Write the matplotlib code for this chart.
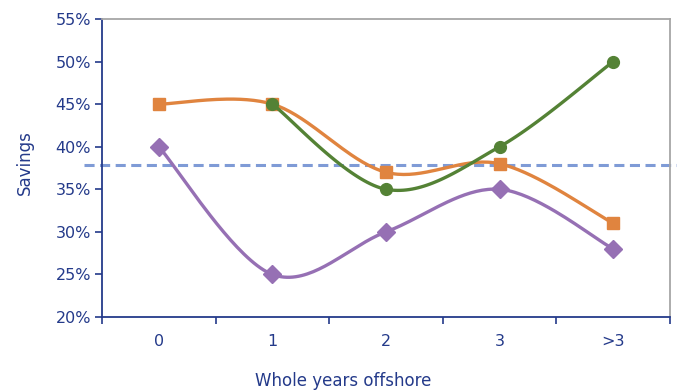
import numpy as np
import matplotlib
matplotlib.use("Agg")
import matplotlib.pyplot as plt
from matplotlib.ticker import FuncFormatter

categories = ["0", "1", "2", "3", ">3"]
series_orange = [45, 45, 37, 38, 31]
series_green = [None, 45, 35, 40, 50]
series_purple = [40, 25, 30, 35, 28]
average_line = 37.85

NAVY = "#243A8A"
ORANGE = "#E0843F"
GREEN = "#548235"
PURPLE = "#9670B4"
DASH = "#7F9BD6"


def smooth(xs, ys, n=40):
    """Catmull-Rom style cubic Bezier smoothing through the points."""
    pts = np.column_stack([xs, ys]).astype(float)
    out = []
    m = len(pts)
    for i in range(m - 1):
        p0 = pts[i - 1] if i > 0 else pts[i]
        p1 = pts[i]
        p2 = pts[i + 1]
        p3 = pts[i + 2] if i + 2 < m else pts[i + 1]
        c1 = p1 + (p2 - p0) / 6.0
        c2 = p2 - (p3 - p1) / 6.0
        t = np.linspace(0, 1, n)[:, None]
        seg = ((1 - t) ** 3) * p1 + 3 * ((1 - t) ** 2) * t * c1 + 3 * (1 - t) * t ** 2 * c2 + t ** 3 * p2
        out.append(seg if i == 0 else seg[1:])
    arr = np.vstack(out)
    return arr[:, 0], arr[:, 1]


fig = plt.figure(figsize=(6.77, 3.92), dpi=100)
ax = fig.add_axes([102 / 677, 1 - 317 / 392, (670 - 102) / 677, (317 - 19) / 392])

x = np.arange(len(categories))


def plot_series(vals, color, marker, ms, z):
    xs = [xi for xi, v in zip(x, vals) if v is not None]
    ys = [v for v in vals if v is not None]
    sx, sy = smooth(xs, ys)
    ax.plot(sx, sy, color=color, lw=2.4, solid_capstyle="round", zorder=z)
    ax.plot(xs, ys, linestyle="none", marker=marker, ms=ms, color=color,
            markeredgecolor=color, zorder=z + 0.5)


plot_series(series_orange, ORANGE, "s", 9, 3)
plot_series(series_purple, PURPLE, "D", 9, 3)
plot_series(series_green, GREEN, "o", 8.5, 4)

ax.set_xlim(-0.5, len(categories) - 0.5)
ax.set_ylim(20, 55)

# horizontal reference line extends past the plot area
ax.plot([-0.66, 5.0], [average_line, average_line], color=DASH, lw=2.2,
        dashes=(3.3, 1.8), clip_on=False, zorder=2)

ax.set_yticks(np.arange(20, 56, 5))
ax.yaxis.set_major_formatter(FuncFormatter(lambda v, p: f"{int(v)}%"))
ax.set_xticks(x)
ax.set_xticklabels(categories)
ax.set_xticks(np.arange(-0.5, len(categories), 1), minor=True)
ax.tick_params(axis="x", which="major", length=0, pad=12, labelsize=11.5, labelcolor=NAVY)
ax.tick_params(axis="x", which="minor", length=5, width=1.2, color=NAVY, direction="out")
ax.tick_params(axis="y", length=5, width=1.2, color=NAVY, labelsize=11.5, labelcolor=NAVY, pad=3)

for s in ["left", "bottom"]:
    ax.spines[s].set_color(NAVY)
    ax.spines[s].set_linewidth(1.3)
for s in ["top", "right"]:
    ax.spines[s].set_color("#A6A6A6")
    ax.spines[s].set_linewidth(1.3)

fig.text(25 / 677, 1 - 163 / 392, "Savings", rotation=90, ha="center", va="center",
         color=NAVY, fontsize=12)
fig.text(343 / 677, 1 - 381 / 392, "Whole years offshore", ha="center", va="center",
         color=NAVY, fontsize=12)

fig.savefig("out.png", dpi=100)
